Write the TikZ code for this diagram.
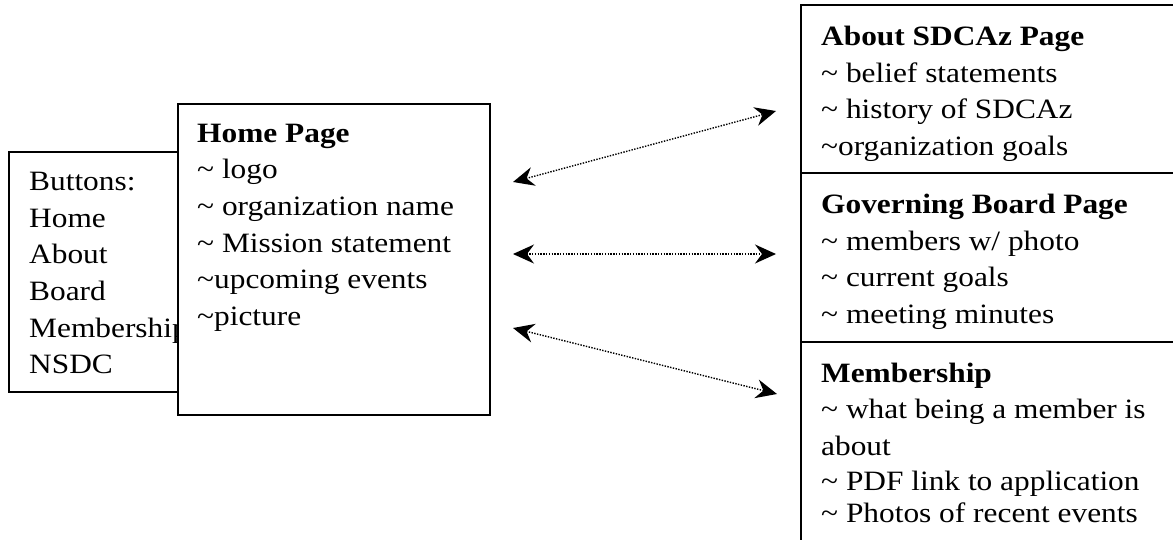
\documentclass[tikz,border=0pt]{standalone}
\usepackage{fontspec}
\setmainfont[FakeStretch=1.12]{Liberation Serif}
\usetikzlibrary{arrows.meta}
\newcommand{\tl}{\char"007E}
\begin{document}
\begin{tikzpicture}[x=1pt,y=-1pt,
  box/.style={draw=black,line width=1.5pt,rectangle,inner sep=0pt,anchor=north west},
  txt/.style={anchor=base west,inner sep=0pt,font=\fontsize{28}{34}\selectfont},
  hd/.style={txt,font=\fontsize{28}{34}\selectfont\bfseries},
  link/.style={line width=1.4pt,dash pattern=on 1.4pt off 1.4pt,
    {Stealth[length=21pt,width=19pt,inset=7pt]}-{Stealth[length=21pt,width=19pt,inset=7pt]}}]
\useasboundingbox (0,0) rectangle (1173,539);
\clip (0,0) rectangle (1173,539);
\fill[white] (0,0) rectangle (1173,539);
% Buttons box
\node[box,minimum width=170pt,minimum height=240pt] (buttons) at (8,151) {};
\foreach \t/\y [count=\i] in {Buttons:/190,Home/227,About/263,Board/300,Membership/337,NSDC/373}
  \node[txt] (btn\i) at (29,\y) {\t};
% Home box
\node[box,fill=white,minimum width=312pt,minimum height=311pt] (home) at (177,103) {};
\node[hd] (h0) at (197,142) {Home Page};
\foreach \t/\y [count=\i] in {{\tl{} logo}/178,{\tl{} organization name}/215,{\tl{} Mission statement}/252,{\tl upcoming events}/288,{\tl picture}/325}
  \node[txt] (h\i) at (197,\y) {\t};
% Right boxes
\node[box,minimum width=400pt,minimum height=168pt] (about) at (800,4) {};
\node[box,minimum width=400pt,minimum height=169pt] (board) at (800,172) {};
\node[box,minimum width=400pt,minimum height=230pt] (member) at (800,341) {};
\node[hd] (a0) at (821,45) {About SDCAz Page};
\foreach \t/\y [count=\i] in {{\tl{} belief statements}/82,{\tl{} history of SDCAz}/118,{\tl organization goals}/155}
  \node[txt] (a\i) at (821,\y) {\t};
\node[hd] (g0) at (821,213) {Governing Board Page};
\foreach \t/\y [count=\i] in {{\tl{} members w/ photo}/250,{\tl{} current goals}/286,{\tl{} meeting minutes}/323}
  \node[txt] (g\i) at (821,\y) {\t};
\node[hd] (m0) at (821,382) {Membership};
\foreach \t/\y [count=\i] in {{\tl{} what being a member is}/418,{about}/455,{\tl{} PDF link to application}/490,{\tl{} Photos of recent events}/522}
  \node[txt] (m\i) at (821,\y) {\t};
% connectors
\coordinate (l1) at (513,182); \coordinate (r1) at (776,111);
\coordinate (l2) at (513,254); \coordinate (r2) at (776,254);
\coordinate (l3) at (513,328); \coordinate (r3) at (777,394);
\draw[link] (l1) -- (r1);
\draw[link] (l2) -- (r2);
\draw[link] (l3) -- (r3);
\end{tikzpicture}
\end{document}
